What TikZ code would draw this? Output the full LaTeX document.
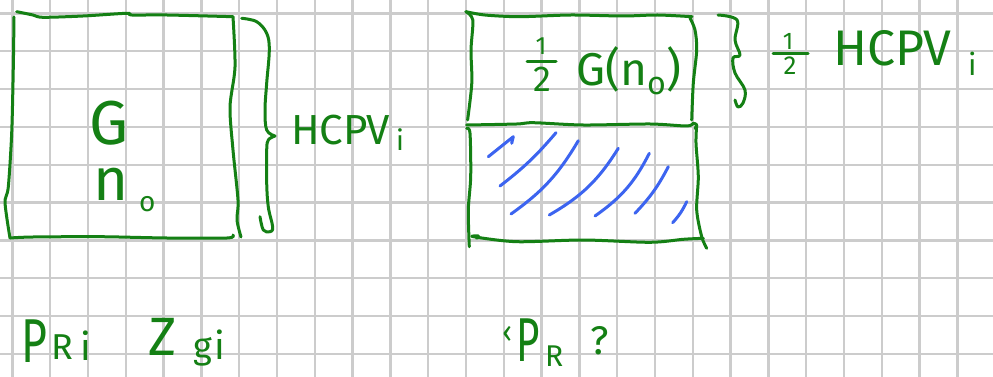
\documentclass[tikz,border=0pt]{standalone}
\usepackage{fontspec}
\setmainfont{Fira Sans}
\definecolor{ink}{RGB}{20,128,20}
\definecolor{hatchblue}{RGB}{60,100,240}
\definecolor{gridgray}{RGB}{204,204,204}
\newcommand{\fs}[1]{\fontsize{#1}{#1}\selectfont}
\begin{document}
\begin{tikzpicture}[x=1pt,y=-1pt,
  gridline/.style={draw=gridgray,line width=2.4pt},
  ink/.style={draw=ink,line width=3pt,line cap=round,line join=round},
  hatchline/.style={draw=hatchblue,line width=3pt,line cap=round,line join=round},
  lbl/.style={text=ink,inner sep=0pt,anchor=base west,text depth=0pt},
  lblc/.style={text=ink,inner sep=0pt,anchor=base,text depth=0pt}]
\useasboundingbox (0,0) rectangle (993,377);
\fill[white] (0,0) rectangle (993,377);
% grid
\foreach \i in {0,...,25} \draw[gridline] ({12.3+37.8*\i},0) -- ({12.3+37.8*\i},377);
\foreach \j in {0,...,9} \draw[gridline] (0,{13.5+37.8*\j}) -- (993,{13.5+37.8*\j});
% left box
\draw[ink] plot[smooth,tension=0.5] coordinates {(16.7,11.7) (33,15) (43,17.3) (83,16) (126.7,13.3) (131.7,15) (167,15) (233,16.7)};
\draw[ink] plot[smooth,tension=0.5] coordinates {(14,17) (13.3,67) (11.7,133) (8.3,187) (5,200) (6.7,217) (10,238)};
\draw[ink] plot[smooth,tension=0.5] coordinates {(233,17) (235,67) (230,107) (233,150) (238,200) (237,220) (241,237)};
\draw[ink] plot[smooth,tension=0.5] coordinates {(10,238) (33,237) (100,236.7) (167,238) (227,238) (233,235)};
% left brace
\draw[ink] plot[smooth,tension=0.6] coordinates {(241.7,18.3) (256.7,21.7) (266.7,33.3) (269.3,50) (266.7,83) (265,110) (266.7,130) (275,136)};
\draw[ink] plot[smooth,tension=0.6] coordinates {(275,136) (268.3,140) (266.7,150) (266.7,183) (268.3,207) (272.7,227) (270,231.7) (263.3,230) (260,216.7)};
% right box, upper part
\draw[ink] plot[smooth,tension=0.5] coordinates {(465.9,11.7) (484.9,15) (519.4,16.7) (571,15) (623,16) (657.4,15) (692,16.7)};
\draw[ink] plot[smooth,tension=0.5] coordinates {(465.9,11.7) (472.8,20) (471,50) (471.8,83) (467.6,120)};
\draw[ink] plot[smooth,tension=0.5] coordinates {(690,18) (695,30) (696.7,50) (693.3,83) (691.7,120)};
\draw[ink] plot[smooth,tension=0.5] coordinates {(466.7,125) (516.7,124) (533.3,122.7) (583.3,125) (650,124) (686.7,126) (693.3,123.3) (696.7,125) (695,128.3)};
% right box, lower part
\draw[ink] plot[smooth,tension=0.5] coordinates {(466.7,128.3) (470,133.3) (470.7,176.7) (468.3,210) (469.3,246.7)};
\draw[ink] plot[smooth,tension=0.5] coordinates {(696.7,125) (696,143.3) (698.3,176.7) (696.7,210) (701.7,236.7) (706.7,248.3)};
\draw[ink] plot[smooth,tension=0.5] coordinates {(476.7,238.3) (478.3,236) (473.3,236.7) (516.7,241.7) (583.3,240) (650,242.3) (683.3,239.3) (703.3,238.3)};
% right brace
\draw[ink] plot[smooth,tension=0.6] coordinates {(718,15) (737,20) (735,40) (740,55) (733,58) (735,73) (745,90) (743,103) (738,107) (735,100)};
% hatching
\draw[hatchline] (488.3,156.7) -- (513.3,136.7) -- (511.7,143.3);
\draw[hatchline] (500,186) to[bend right=6] (556,132.7);
\draw[hatchline] (511,214) to[bend right=12] (578.3,140.7);
\draw[hatchline] (549.3,215) to[bend right=14] (618.3,148.3);
\draw[hatchline] (595,216) to[bend right=14] (649.3,153.3);
\draw[hatchline] (635,213.3) to[bend right=8] (668.3,166.7);
\draw[hatchline] (672.7,222.7) to[bend right=8] (686.7,201.7);
% left box labels
\node[lbl,font=\fs{62},text height=44pt] (gl) at (89,145) {G};
\node[lbl,font=\fs{60},text height=32pt] (nl) at (93,200) {n};
\node[lbl,font=\fs{28},text height=15pt] (ol) at (139,211) {o};
\node[lbl,font=\fs{42},text height=30pt] (hcl) at (291,145) {HCPV};
\node[lbl,font=\fs{28},text height=21pt] (il) at (396,150) {i};
% right box labels
\node[lblc,font=\fs{25},text height=18pt] (onea) at (541,55) {1};
\node[lblc,font=\fs{36},text height=25pt] (twoa) at (542,92) {2};
\draw[ink] (527,62) -- (556,62);
\node[lbl,font=\fs{46},text height=33pt] (gr) at (576,86) {G(n\textsubscript{o})};
% right brace label
\node[lblc,font=\fs{24},text height=17pt] (oneb) at (788,50) {1};
\node[lblc,font=\fs{26},text height=18pt] (twob) at (790,75) {2};
\draw[ink] (773,54) -- (808,54);
\node[lbl,font=\fs{50},text height=35pt] (hcr) at (833,66) {HCPV};
\node[lbl,font=\fs{30},text height=22pt] (ir) at (968,76) {i};
% bottom labels
\node[lbl,font=\fs{62},text height=43pt] (pri) at (21,362) {\scalebox{0.72}[1]{P}};
\node[lbl,font=\fs{36},text height=25pt] (rri) at (51,359) {R};
\node[lbl,font=\fs{38},text height=28pt] (iri) at (80,360) {i};
\node[lbl,font=\fs{54},text height=38pt] (zg) at (148,355) {Z};
\node[lbl,font=\fs{36},text height=19pt,text depth=9pt] (gg) at (193,358) {g};
\node[lbl,font=\fs{38},text height=28pt] (ig) at (214,359) {i};
\node[lbl,font=\fs{30},text height=16pt] (qa) at (502,342) {‹};
\node[lbl,font=\fs{62},text height=43pt] (pr) at (516,361) {\scalebox{0.65}[1]{P}};
\node[lbl,font=\fs{30},text height=21pt] (rr) at (545,366) {R};
\node[lbl,font=\fs{40},text height=28pt] (qb) at (590,354) {?};
\end{tikzpicture}
\end{document}
